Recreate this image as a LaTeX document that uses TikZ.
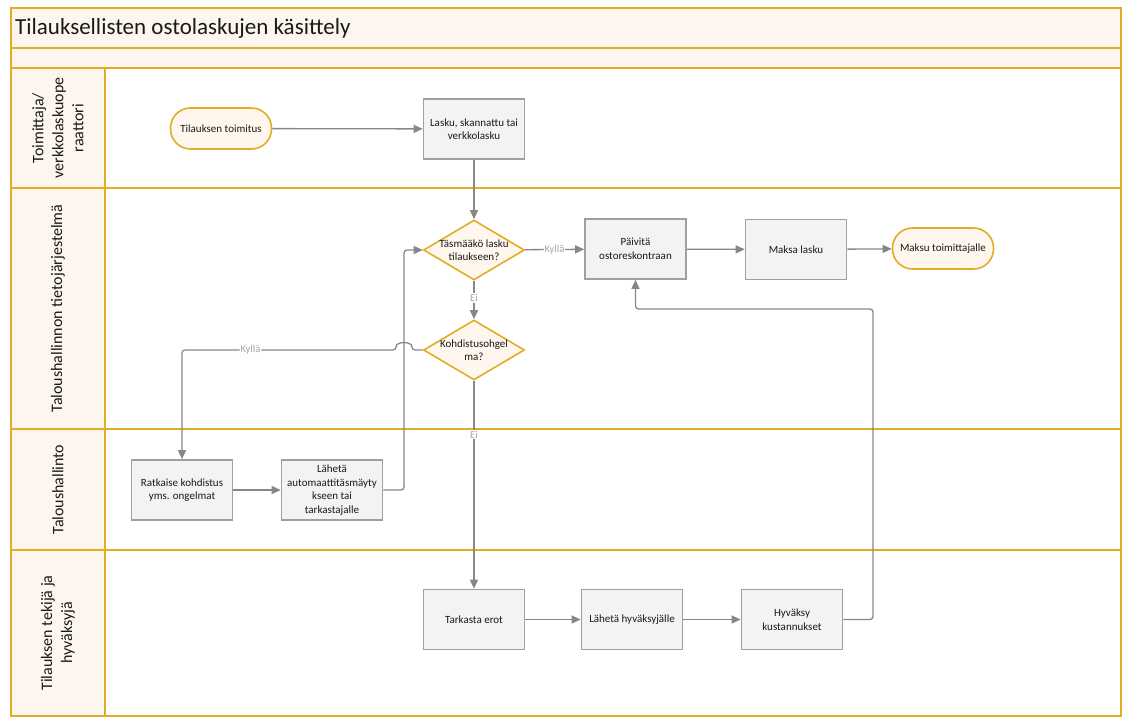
\documentclass[tikz,border=0pt]{standalone}
\usepackage{fontspec}
\setmainfont{Carlito}
\usetikzlibrary{arrows.meta,shapes.geometric}

\definecolor{lanegold}{RGB}{226,172,36}
\definecolor{bandfill}{RGB}{253,246,238}
\definecolor{termfill}{RGB}{255,247,238}
\definecolor{boxfill}{RGB}{243,243,243}
\definecolor{boxline}{RGB}{160,160,160}
\definecolor{flow}{RGB}{135,135,135}
\definecolor{labelgray}{RGB}{165,165,165}
\definecolor{inktext}{RGB}{25,25,25}

\tikzset{
  laneline/.style={draw=lanegold, line width=2pt},
  lanehead/.style={rotate=90, align=center, text=inktext,
    font=\fontsize{16}{20}\selectfont},
  stepbox/.style={draw=boxline, fill=boxfill, line width=1.6pt,
    minimum width=101pt, minimum height=60pt, align=center, inner sep=2pt,
    text=inktext, font=\fontsize{11}{13.5}\selectfont},
  terminal/.style={draw=lanegold, fill=termfill, line width=1.6pt,
    rounded corners=20pt, minimum width=101pt, minimum height=41pt,
    align=center, text=inktext, font=\fontsize{11}{13.5}\selectfont},
  decision/.style={diamond, draw=lanegold, fill=termfill, line width=1.6pt,
    minimum width=101pt, minimum height=60pt, inner sep=0pt},
  dectext/.style={align=center, text=inktext, inner sep=0pt,
    font=\fontsize{11}{13.5}\selectfont},
  flowline/.style={draw=flow, line width=1.3pt,
    -{Triangle[length=9pt,width=8pt]}},
  edgelabel/.style={fill=white, text=labelgray, inner sep=1pt,
    font=\fontsize{10.5}{12}\selectfont}
}

\begin{document}
\begin{tikzpicture}[x=1pt, y=-1pt]
  \useasboundingbox (0,0) rectangle (1122,718);

  % pool background: title band and lane header column
  \fill[bandfill] (11,8) rectangle (1121,68);
  \fill[bandfill] (11,68) rectangle (105,716);

  % pool frame and lane separators
  \draw[laneline] (11,8) rectangle (1121,716);
  \draw[laneline] (11,48) -- (1121,48);
  \draw[laneline] (11,68) -- (1121,68);
  \draw[laneline] (11,188) -- (1121,188);
  \draw[laneline] (11,429) -- (1121,429);
  \draw[laneline] (11,550) -- (1121,550);
  \draw[laneline] (105,68) -- (105,716);

  % title
  \node[anchor=west, text=inktext, font=\fontsize{23}{25}\selectfont, inner sep=0pt]
    (title) at (15,28) {Tilauksellisten ostolaskujen käsittely};

  % lane headers
  \node[lanehead] (lane1) at (58,128) {Toimittaja/\\verkkolaskuope\\raattori};
  \node[lanehead] (lane2) at (58,308.5) {Taloushallinnon tietojärjestelmä};
  \node[lanehead] (lane3) at (58,489.5) {Taloushallinto};
  \node[lanehead] (lane4) at (58,633) {Tilauksen tekijä ja\\hyväksyjä};

  % flow nodes
  \node[terminal] (toimitus) at (221,128.5) {Tilauksen toimitus};
  \node[stepbox] (lasku) at (474,129) {Lasku, skannattu tai\\verkkolasku};
  \node[decision, label={[dectext]center:{Täsmääkö lasku\\tilaukseen?}}]
    (d1) at (474,250) {};
  \node[stepbox] (paivita) at (635.5,249) {Päivitä\\ostoreskontraan};
  \node[stepbox] (maksa) at (796,249.5) {Maksa lasku};
  \node[terminal] (maksu) at (943,248.5) {Maksu toimittajalle};
  \node[decision, label={[dectext]center:{Kohdistusohgel\\ma?}}]
    (d2) at (474,350) {};
  \node[stepbox] (ratkaise) at (182,490) {Ratkaise kohdistus\\yms. ongelmat};
  \node[stepbox] (autom) at (332,490) {Lähetä\\automaattitäsmäyty\\kseen tai\\tarkastajalle};
  \node[stepbox] (tarkasta) at (474,619.5) {Tarkasta erot};
  \node[stepbox] (hyvlahetys) at (632,619.5) {Lähetä hyväksyjälle};
  \node[stepbox] (hyvaksy) at (792,619.5) {Hyväksy\\kustannukset};

  % connectors
  \draw[flowline] (toimitus) -- (lasku);
  \draw[flowline] (lasku) -- (d1);
  \draw[flowline] (d1) -- node[edgelabel] {Kyllä} (paivita);
  \draw[flowline] (paivita) -- (maksa);
  \draw[flowline] (maksa) -- (maksu);
  \draw[flowline] (d1) -- node[edgelabel, pos=0.45] {Ei} (d2);
  \draw[flowline, rounded corners=3pt] (d2.west) -- (412,350)
    .. controls (412,341) and (396,341) .. (396,350)
    -- node[edgelabel, pos=0.68] {Kyllä} (ratkaise.north |- d2.west)
    -- (ratkaise.north);
  \draw[flowline] (ratkaise) -- (autom);
  \draw[flowline, rounded corners=3pt] (autom.east) -- (404,490) |- (d1.west);
  \draw[flowline] (d2.south) -- node[edgelabel, pos=0.26] {Ei} (tarkasta.north);
  \draw[flowline] (tarkasta) -- (hyvlahetys);
  \draw[flowline] (hyvlahetys) -- (hyvaksy);
  \draw[flowline, rounded corners=3pt] (hyvaksy.east) -| (873,309) -| (paivita.south);
\end{tikzpicture}
\end{document}
